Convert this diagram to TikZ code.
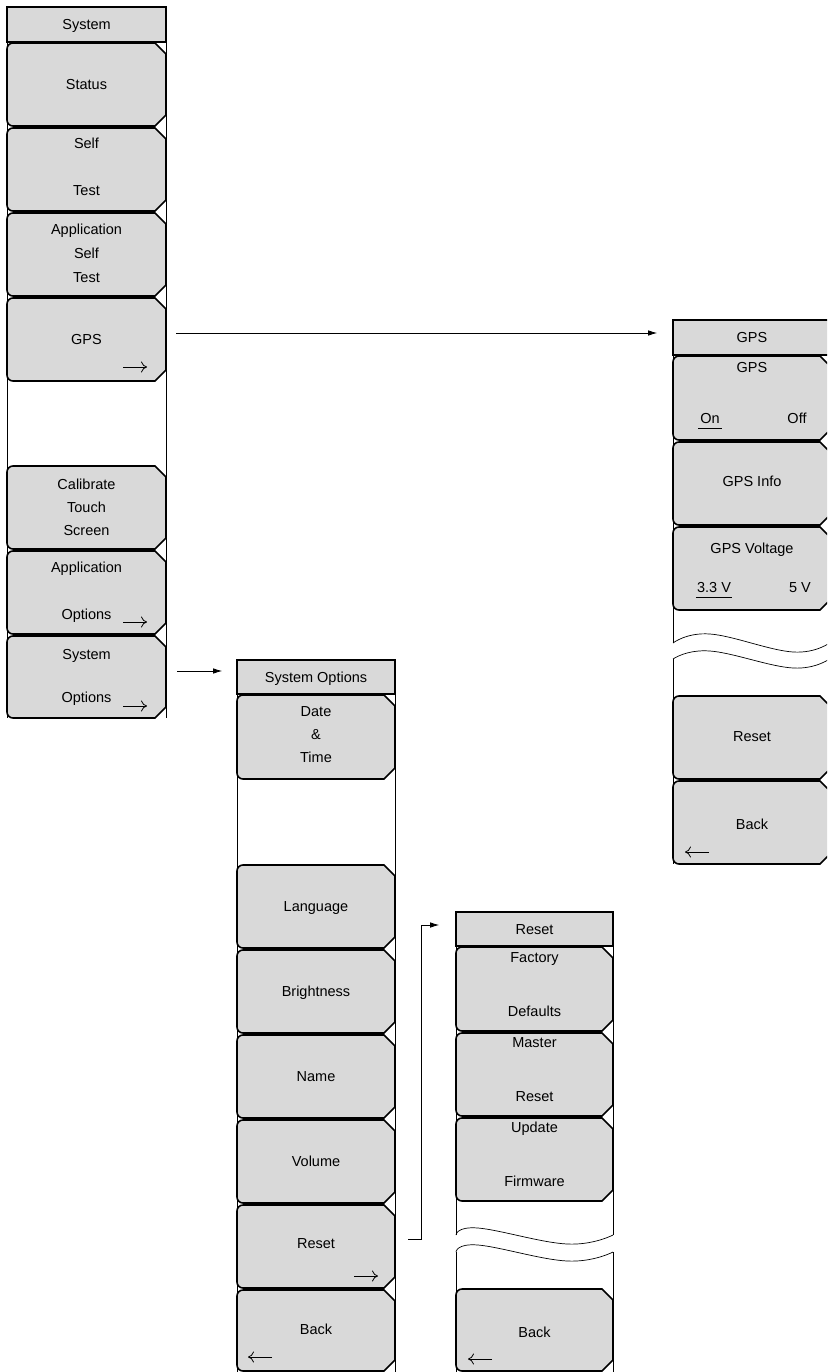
\documentclass[tikz,border=0pt]{standalone}
\usepackage{fontspec}
\setmainfont{Liberation Sans}
\usetikzlibrary{arrows.meta,calc}
\definecolor{btngray}{RGB}{217,217,217}
\newcommand\lfont{\fontsize{14.5}{16}\selectfont}
\newcommand{\mbtn}[5]{%
  \draw[btn] ({#3-11},#4) -- ({#2+6},#4) arc[start angle=270,end angle=180,radius=6]
     -- (#2,{#5-6}) arc[start angle=180,end angle=90,radius=6]
     -- ({#3-11},#5) -- (#3,{#5-11}) -- (#3,{#4+11}) -- cycle;
  \node[inner sep=0pt,minimum width={(#3-#2)*1pt},minimum height={(#5-#4)*1pt}] (#1) at ({(#2+#3)/2},{(#4+#5)/2}) {};
}
\newcommand{\mttl}[6]{%
  \node[ttl,minimum width={(#3-#2)*1pt},minimum height={(#5-#4)*1pt}] (#1) at ({(#2+#3)/2},{(#4+#5)/2}) {#6};
}
% right / left arrows inside soft keys
\newcommand{\rarr}[3]{%
  \coordinate (#1s) at ({#2-12},#3); \coordinate (#1e) at ({#2+12},#3);
  \draw[karr] (#1s) -- (#1e);
}
\newcommand{\larr}[3]{%
  \coordinate (#1s) at ({#2+12},#3); \coordinate (#1e) at ({#2-12},#3);
  \draw[karr] (#1s) -- (#1e);
}
\begin{document}
\begin{tikzpicture}[x=1pt,y=-1pt,
  btn/.style={draw=black,line width=1.6pt,fill=btngray},
  ttl/.style={draw=black,line width=1.6pt,fill=btngray,inner sep=0pt,font=\lfont,text height=10.4pt,text depth=0pt},
  frm/.style={line width=0.7pt},
  lbl/.style={inner sep=0pt,font=\lfont,text height=10.4pt,text depth=0pt},
  karr/.style={line width=0.8pt,-{Computer Modern Rightarrow[length=6pt,width=11pt,line width=0.8pt]}},
  ul/.style={line width=0.7pt},
  conn/.style={line width=0.8pt,-{Latex[length=9pt,width=5.5pt]}}]
\useasboundingbox (0,0) rectangle (827,1372);
\clip (0,0) rectangle (827,1372);

% ---------- frames ----------
\draw[frm] (7,42) -- (7,718) (166,42) -- (166,718);
\draw[frm] (237,694) -- (237,1372) (395,694) -- (395,1372);
\draw[frm] (456,946) -- (456,1235) (456,1252) -- (456,1372)
           (613,946) -- (613,1235) (613,1252) -- (613,1372);
\draw[frm] (673,355) -- (673,643) (673,659) -- (673,864)
           (831,355) -- (831,643) (831,659) -- (831,864);
% wave breaks
\draw[frm] plot[smooth,tension=0.7] coordinates {(673,643) (710,634) (793,652) (831,642)};
\draw[frm] plot[smooth,tension=0.7] coordinates {(673,659) (710,651) (793,668) (831,658)};
\draw[frm] plot[smooth,tension=0.7] coordinates {(456,1235) (478,1228) (567,1244) (613,1235)};
\draw[frm] plot[smooth,tension=0.7] coordinates {(456,1252) (478,1245) (567,1261) (613,1252)};

% ---------- System menu ----------
\mttl{systitle}{7}{166}{7}{42}{System}
\mbtn{bstatus}{7}{166}{43}{126}
\mbtn{bself}{7}{166}{128}{211}
\mbtn{bappself}{7}{166}{213}{296}
\mbtn{bgps}{7}{166}{298}{381}
\mbtn{bcalib}{7}{166}{466}{549}
\mbtn{bappopt}{7}{166}{551}{634}
\mbtn{bsysopt}{7}{166}{636}{718}
\node[lbl] (t1) at (86.5,84) {Status};
\node[lbl] (t2) at (86.5,143) {Self};
\node[lbl] (t3) at (86.5,190) {Test};
\node[lbl] (t4) at (86.5,229) {Application};
\node[lbl] (t5) at (86.5,253) {Self};
\node[lbl] (t6) at (86.5,277) {Test};
\node[lbl] (t7) at (86.5,339) {GPS};
\rarr{a1}{135}{367}
\node[lbl] (t8) at (86.5,484) {Calibrate};
\node[lbl] (t9) at (86.5,507) {Touch};
\node[lbl] (t10) at (86.5,530) {Screen};
\node[lbl] (t11) at (86.5,567) {Application};
\node[lbl] (t12) at (86.5,614) {Options};
\rarr{a2}{135}{622}
\node[lbl] (t13) at (86.5,654) {System};
\node[lbl] (t14) at (86.5,697) {Options};
\rarr{a3}{135}{706}

% ---------- GPS menu ----------
\mttl{gpstitle}{673}{831}{320}{355}{GPS}
\mbtn{ggps}{673}{831}{356}{440}
\mbtn{ginfo}{673}{831}{442}{525}
\mbtn{gvolt}{673}{831}{527}{610}
\mbtn{greset}{673}{831}{696}{779}
\mbtn{gback}{673}{831}{781}{864}
\node[lbl] (g1) at (752,367) {GPS};
\node[lbl] (gon) at (710,418) {On};
\node[lbl] (goff) at (797,418) {Off};
\draw[ul] ([xshift=-2pt,yshift=-5pt]gon.base west) -- ([xshift=2pt,yshift=-5pt]gon.base east);
\node[lbl] (g2) at (752,481) {GPS Info};
\node[lbl] (g3) at (752,548) {GPS Voltage};
\node[lbl] (g33) at (714,587) {3.3 V};
\node[lbl] (g5) at (800,587) {5 V};
\draw[ul] ([xshift=-1pt,yshift=-5pt]g33.base west) -- ([xshift=1pt,yshift=-5pt]g33.base east);
\node[lbl] (g4) at (752,736) {Reset};
\node[lbl] (g6) at (752,824) {Back};
\larr{ga}{697}{852}

% ---------- System Options menu ----------
\mttl{sotitle}{237}{395}{660}{694}{System Options}
\mbtn{sdate}{237}{395}{695}{779}
\mbtn{slang}{237}{395}{865}{948}
\mbtn{sbright}{237}{395}{950}{1033}
\mbtn{sname}{237}{395}{1035}{1118}
\mbtn{svol}{237}{395}{1120}{1203}
\mbtn{sreset}{237}{395}{1205}{1288}
\mbtn{sback}{237}{395}{1290}{1371}
\node[lbl] (s1) at (316,711) {Date};
\node[lbl] (s2) at (316,734) {\&};
\node[lbl] (s3) at (316,757) {Time};
\node[lbl] (s4) at (316,906) {Language};
\node[lbl] (s5) at (316,991) {Brightness};
\node[lbl] (s6) at (316,1076) {Name};
\node[lbl] (s7) at (316,1161) {Volume};
\node[lbl] (s8) at (316,1243) {Reset};
\rarr{sa1}{366}{1276}
\node[lbl] (s9) at (316,1329) {Back};
\larr{sa2}{260}{1357}

% ---------- Reset menu ----------
\mttl{rtitle}{456}{613}{912}{946}{Reset}
\mbtn{rfact}{456}{613}{947}{1031}
\mbtn{rmast}{456}{613}{1033}{1116}
\mbtn{rupd}{456}{613}{1118}{1201}
\mbtn{rback}{456}{613}{1289}{1371}
\node[lbl] (r1) at (534.5,957) {Factory};
\node[lbl] (r2) at (534.5,1011) {Defaults};
\node[lbl] (r3) at (534.5,1042) {Master};
\node[lbl] (r4) at (534.5,1096) {Reset};
\node[lbl] (r5) at (534.5,1127) {Update};
\node[lbl] (r6) at (534.5,1181) {Firmware};
\node[lbl] (r7) at (534.5,1332) {Back};
\larr{ra}{480}{1359}

% ---------- connectors ----------
\coordinate (c1) at (176,333);
\draw[conn,shorten >=15pt] (c1) -- (c1 -| gpstitle.west);
\coordinate (c2) at (177,671);
\draw[conn,shorten >=14pt] (c2) -- (c2 -| sotitle.west);
\coordinate (c3) at (408,1239);
\coordinate (c4) at (421,925);
\draw[conn,shorten >=16pt] (c3) -| (c4) -- (c4 -| rtitle.west);
\end{tikzpicture}
\end{document}
